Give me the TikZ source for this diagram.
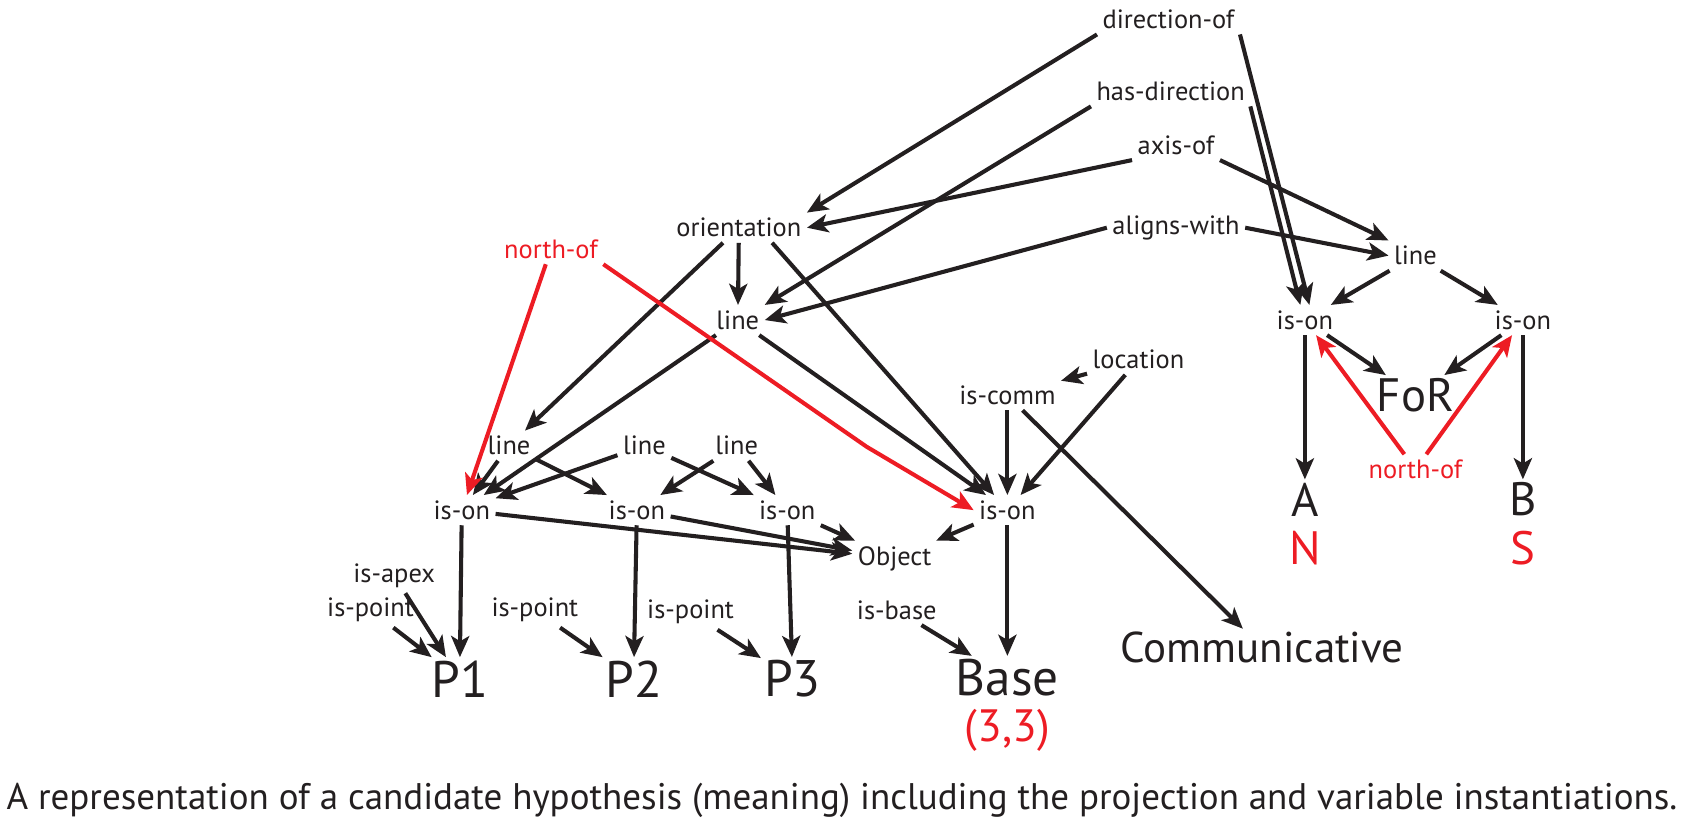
\documentclass[tikz,border=0pt]{standalone}
\usepackage{fontspec}
\setmainfont{PT Sans}
\newfontfamily\capfont[FakeStretch=1.0]{PT Sans}
\usetikzlibrary{arrows.meta}
\definecolor{ink}{HTML}{231F20}
\definecolor{hred}{HTML}{ED1C24}

\begin{document}
\begin{tikzpicture}[x=0.025cm, y=-0.025cm,
  rel/.style={font=\fontsize{17.5}{17.5}\selectfont, text=ink, inner sep=3.5pt},
  ent/.style={font=\fontsize{31}{31}\selectfont, text=ink, inner sep=2pt},
  big/.style={ent, font=\fontsize{34}{34}\selectfont},
  link/.style={draw=ink, line width=2.7pt, -{Stealth[length=14pt, width=12pt, inset=3.5pt]}},
  redlink/.style={link, draw=hred}]
  \useasboundingbox (0,0) rectangle (1568,772);

  % Top relations
  \node[rel] (dirof)  at (1088,18)  {direction-of};
  \node[rel] (hasdir) at (1090,85)  {has-direction};
  \node[rel] (axisof) at (1095,135) {axis-of};
  \node[rel] (aligns) at (1095,212) {aligns-with};

  % Middle part
  \node[rel] (orient) at (688,212) {orientation};
  \node[rel, text=hred] (northL) at (513,232) {north-of};
  \node[rel] (lineM) at (687,298) {line};
  \node[rel] (locat) at (1060,335) {location};
  \node[rel] (iscomm) at (938,368) {is-comm};

  % Right part: frame of reference
  \node[rel] (lineR) at (1318,238) {line};
  \node[rel] (isonA) at (1215,298) {is-on};
  \node[rel] (isonB) at (1418,298) {is-on};
  \node[ent] (for) at (1318,368) {FoR};
  \node[rel, text=hred] (northR) at (1318,437) {north-of};
  \node[ent] (A) at (1215,465) {A};
  \node[ent, text=hred] (N) at (1215,510) {N};
  \node[ent] (B) at (1418,465) {B};
  \node[ent, text=hred] (S) at (1418,510) {S};

  % Lower part: the points
  \node[rel] (line1) at (474,415) {line};
  \node[rel] (line2) at (600,415) {line};
  \node[rel] (line3) at (686,415) {line};
  \node[rel] (ison1) at (430,475) {is-on};
  \node[rel] (ison2) at (593,475) {is-on};
  \node[rel] (ison3) at (733,475) {is-on};
  \node[rel] (isonO) at (938,475) {is-on};
  \node[rel] (object) at (833,520) {Object};
  \node[rel] (isapex) at (367,536) {is-apex};
  \node[rel] (ispt1) at (345,568) {is-point};
  \node[rel] (ispt2) at (498,568) {is-point};
  \node[rel] (ispt3) at (643,570) {is-point};
  \node[rel] (isbase) at (835,568) {is-base};
  \node[big] (P1) at (428,632) {P1};
  \node[big] (P2) at (590,632) {P2};
  \node[big] (P3) at (738,632) {P3};
  \node[big] (base) at (938,631) {Base};
  \node[ent, text=hred, inner sep=0pt, font=\fontsize{30}{30}\selectfont] (val) at (938,680) {(3,3)};
  \node[ent, font=\fontsize{28.5}{28.5}\selectfont] (comm) at (1175,603) {Communicative};

  % Connectors
  \draw[link] (dirof.south west) -- (orient.north east);
  \draw[link] (dirof.south east) -- ([xshift=3pt]isonA.north);
  \draw[link] (hasdir.south east) -- ([xshift=-3pt]isonA.north);
  \draw[link] (hasdir.south west) -- (lineM.north east);
  \draw[link] (axisof.south west) -- (orient.east);
  \draw[link] (axisof.south east) -- (lineR.north west);
  \draw[link] (aligns.west) -- (lineM.east);
  \draw[link] (aligns.east) -- (lineR.west);
  \draw[link] ([xshift=22pt]orient.south) -- (isonO);
  \foreach \a/\b in {orient/lineM, orient/line1, lineM/ison1, lineM/isonO,
      lineR/isonA, lineR/isonB, isonA/A, isonA/for, isonB/for, isonB/B,
      locat/iscomm, locat/isonO, iscomm/isonO, iscomm/comm,
      line1/ison1, line1/ison2, line2/ison1, line2/ison3, line3/ison2, line3/ison3,
      ison1/P1, ison1/object, ison2/P2, ison2/object, ison3/P3, ison3/object,
      isonO/object, isonO/base, isapex/P1, ispt1/P1, ispt2/P2, ispt3/P3, isbase/base}
    \draw[link] (\a) -- (\b);

  % red relations
  \coordinate (bend) at (807,416);
  \draw[redlink] (northL) -- (ison1);
  \draw[redlink] (northL.south east) -- (bend) -- (isonO.west);
  \draw[redlink] (northR) -- (isonA);
  \draw[redlink] (northR) -- (isonB);

  % Caption
  \node[font=\capfont\fontsize{24.5}{24.5}\selectfont, text=ink] (caption) at (784,745)
    {A representation of a candidate hypothesis (meaning) including the projection and variable instantiations.};
\end{tikzpicture}
\end{document}
